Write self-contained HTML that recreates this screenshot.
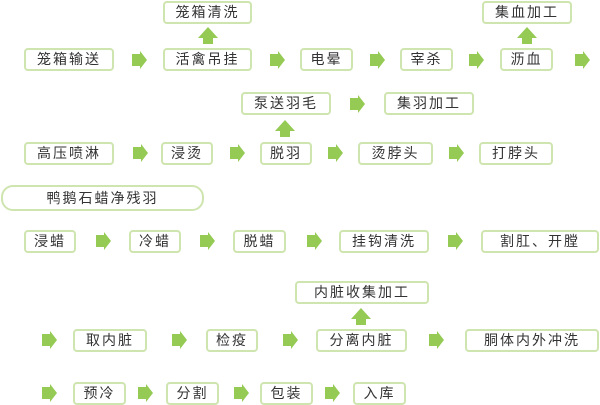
<!DOCTYPE html>
<html><head><meta charset="utf-8"><style>
body{margin:0;width:600px;height:405px;background:#fff;position:relative;overflow:hidden;font-family:"Liberation Sans","Noto Sans CJK SC",sans-serif;}
.b{position:absolute;box-sizing:border-box;border:2px solid #cfe5b0;border-radius:4px;color:#333;font-size:14px;text-align:center;letter-spacing:2px;height:23px;line-height:19px;background:#fff}
svg{position:absolute;left:0;top:0}
</style></head><body>
<div class="b" style="left:163px;top:1px;width:89px">笼箱清洗</div>
<div class="b" style="left:482px;top:1px;width:90px">集血加工</div>
<div class="b" style="left:24px;top:48px;width:90px">笼箱输送</div>
<div class="b" style="left:163px;top:48px;width:89px">活禽吊挂</div>
<div class="b" style="left:300px;top:48px;width:53px">电晕</div>
<div class="b" style="left:400px;top:48px;width:53px">宰杀</div>
<div class="b" style="left:500px;top:48px;width:53px">沥血</div>
<div class="b" style="left:241px;top:92px;width:90px">泵送羽毛</div>
<div class="b" style="left:384px;top:92px;width:90px">集羽加工</div>
<div class="b" style="left:24px;top:142px;width:90px">高压喷淋</div>
<div class="b" style="left:161px;top:142px;width:52px">浸烫</div>
<div class="b" style="left:260px;top:142px;width:52px">脱羽</div>
<div class="b" style="left:358px;top:142px;width:75px">烫脖头</div>
<div class="b" style="left:479px;top:142px;width:74px">打脖头</div>
<div class="b" style="left:1px;top:185px;width:203px;height:26px;border-radius:12px;line-height:22px">鸭鹅石蜡净残羽</div>
<div class="b" style="left:24px;top:230px;width:52px">浸蜡</div>
<div class="b" style="left:129px;top:230px;width:52px">冷蜡</div>
<div class="b" style="left:233px;top:230px;width:53px">脱蜡</div>
<div class="b" style="left:339px;top:230px;width:90px">挂钩清洗</div>
<div class="b" style="left:481px;top:230px;width:118px">割肛、开膛</div>
<div class="b" style="left:295px;top:281px;width:134px">内脏收集加工</div>
<div class="b" style="left:73px;top:329px;width:74px">取内脏</div>
<div class="b" style="left:206px;top:329px;width:52px">检疫</div>
<div class="b" style="left:316px;top:329px;width:91px">分离内脏</div>
<div class="b" style="left:465px;top:329px;width:134px">胴体内外冲洗</div>
<div class="b" style="left:73px;top:382px;width:53px">预冷</div>
<div class="b" style="left:166px;top:382px;width:53px">分割</div>
<div class="b" style="left:260px;top:382px;width:53px">包装</div>
<div class="b" style="left:353px;top:382px;width:53px">入库</div>
<svg width="600" height="405">
<defs>
<polygon id="r" points="0,-6 8,-6 8,-9 15,0 8,9 8,6 0,6" fill="#95cb55"/>
<polygon id="u" points="-10,0 0,-11 10,0 5,0 5,6 -5,6 -5,0" fill="#95cb55"/>
</defs>
<use href="#r" x="132" y="60"/><use href="#r" x="270" y="60"/><use href="#r" x="370" y="60"/><use href="#r" x="469" y="60"/><use href="#r" x="575" y="60"/>
<use href="#r" x="350" y="104"/>
<use href="#r" x="133" y="153"/><use href="#r" x="230" y="153"/><use href="#r" x="328" y="153"/><use href="#r" x="449" y="153"/>
<use href="#r" x="96" y="241"/><use href="#r" x="200" y="241"/><use href="#r" x="307" y="241"/><use href="#r" x="448" y="241"/>
<use href="#r" x="42" y="340"/><use href="#r" x="172" y="340"/><use href="#r" x="283" y="340"/><use href="#r" x="429" y="340"/>
<use href="#r" x="42" y="393"/><use href="#r" x="138" y="393"/><use href="#r" x="234" y="393"/><use href="#r" x="325" y="393"/>
<use href="#u" x="208" y="38"/><use href="#u" x="527" y="38"/><use href="#u" x="285" y="131"/><use href="#u" x="361" y="319"/>
</svg>
</body></html>
